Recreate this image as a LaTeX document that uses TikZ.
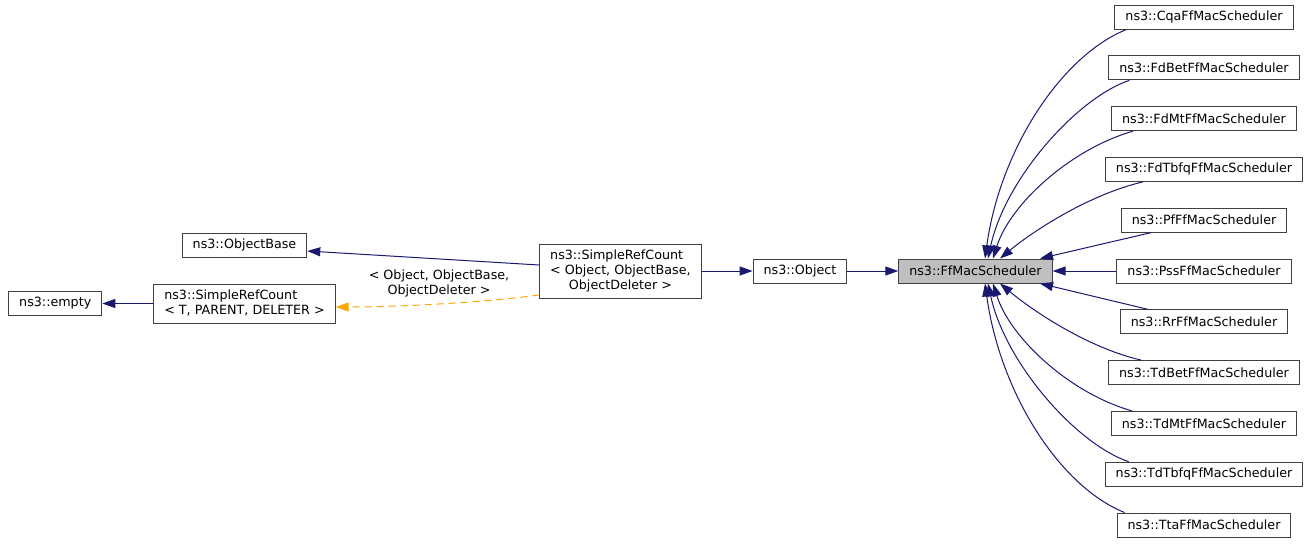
\documentclass[tikz,border=0pt]{standalone}
\usepackage{fontspec}
\setmainfont{DejaVu Sans}
\usetikzlibrary{positioning}
\usetikzlibrary{arrows.meta}
\definecolor{midnight}{RGB}{25,25,112}
\definecolor{boxline}{RGB}{64,64,64}
\definecolor{boxgray}{RGB}{191,191,191}
\definecolor{tplorange}{RGB}{255,165,0}

\begin{document}
\begin{tikzpicture}[x=1pt, y=-1pt,
		cls/.style={draw=boxline, line width=1pt, fill=white, inner xsep=10.5pt, inner ysep=4.5pt, minimum height=24pt, font=\fontsize{12.7}{15}\selectfont},
		inh/.style={midnight, line width=1pt, -{Triangle[length=13pt, width=9pt]}},
		tpl/.style={tplorange, line width=1pt, dash pattern=on 7pt off 5pt, -{Triangle[length=13pt, width=9pt]}},
		lbl/.style={align=center, inner sep=0pt, font=\fontsize{12.7}{15}\selectfont}]
			\useasboundingbox (0,0) rectangle (1309,544);
			
			\node[cls, fill=boxgray] (F) at (975.5,271) {ns3::FfMacScheduler};
			\node[cls, left = 51pt of F] (O) {ns3::Object};
			\node[cls, left = 51pt of O] (S) {\begin{tabular}{@{}l@{}}ns3::SimpleRefCount\\< Object, ObjectBase,\\\multicolumn{1}{@{}c@{}}{ObjectDeleter >}\end{tabular}};
			\node[cls] (B) at (244.5,245) {ns3::ObjectBase};
			\node[cls] (T) at (244.5,303.5) {\begin{tabular}{@{}l@{}}ns3::SimpleRefCount\\< T, PARENT, DELETER >\end{tabular}};
			\node[cls, left = 51pt of T] (E) {ns3::empty};
			
			\node[cls] (Pss) at (1204,271) {ns3::PssFfMacScheduler};
			\node[cls, above = 25.8pt of Pss] (Pf) {ns3::PfFfMacScheduler};
			\node[cls, above = 25.8pt of Pf] (FdTbfq) {ns3::FdTbfqFfMacScheduler};
			\node[cls, above = 25.8pt of FdTbfq] (FdMt) {ns3::FdMtFfMacScheduler};
			\node[cls, above = 25.8pt of FdMt] (FdBet) {ns3::FdBetFfMacScheduler};
			\node[cls, above = 25.8pt of FdBet] (Cqa) {ns3::CqaFfMacScheduler};
			\node[cls, below = 25.8pt of Pss] (Rr) {ns3::RrFfMacScheduler};
			\node[cls, below = 25.8pt of Rr] (TdBet) {ns3::TdBetFfMacScheduler};
			\node[cls, below = 25.8pt of TdBet] (TdMt) {ns3::TdMtFfMacScheduler};
			\node[cls, below = 25.8pt of TdMt] (TdTbfq) {ns3::TdTbfqFfMacScheduler};
			\node[cls, below = 25.8pt of TdTbfq] (Tta) {ns3::TtaFfMacScheduler};
			
			\node[lbl] (L) at (439,283) {< Object, ObjectBase,\\ ObjectDeleter >};
			
			\draw[inh] (T) -- (E);
			\draw[inh] ([yshift=6pt]S.west) -- ([yshift=-6pt]B.east);
			\draw[tpl] ([yshift=3.5pt]S.south west) .. controls +(-60,8) and +(60,0) .. ([yshift=-3.5pt]T.east);
			\draw[inh] (S) -- (O);
			\draw[inh] (O) -- (F);
			
			\draw[inh] ([xshift=12pt]Cqa.south west) .. controls +(-65,26) and +(15,-109) .. ([xshift=9.5pt]F.north);
			\draw[inh] ([xshift=21pt]FdBet.south west) .. controls +(-53,18) and +(17,-79) .. ([xshift=12.5pt]F.north);
			\draw[inh] ([xshift=22pt]FdMt.south west) .. controls +(-63,18) and +(17,-54) .. ([xshift=17.5pt]F.north);
			\draw[inh] ([xshift=38pt]FdTbfq.south west) .. controls +(-52,12) and +(35,-29) .. ([xshift=24.5pt]F.north);
			\draw[inh] ([xshift=30pt]Pf.south west) -- ([xshift=64.5pt]F.north);
			\draw[inh] (Pss) -- (F);
			\draw[inh] ([xshift=28pt]Rr.north west) -- ([xshift=64.5pt]F.south);
			\draw[inh] ([xshift=33pt]TdBet.north west) .. controls +(-52,-12) and +(35,29) .. ([xshift=24.5pt]F.south);
			\draw[inh] ([xshift=21pt]TdMt.north west) .. controls +(-63,-18) and +(17,54) .. ([xshift=17.5pt]F.south);
			\draw[inh] ([xshift=24pt]TdTbfq.north west) .. controls +(-53,-18) and +(17,79) .. ([xshift=12.5pt]F.south);
			\draw[inh] ([xshift=8pt]Tta.north west) .. controls +(-65,-26) and +(15,109) .. ([xshift=9.5pt]F.south);
\end{tikzpicture}
\end{document}
